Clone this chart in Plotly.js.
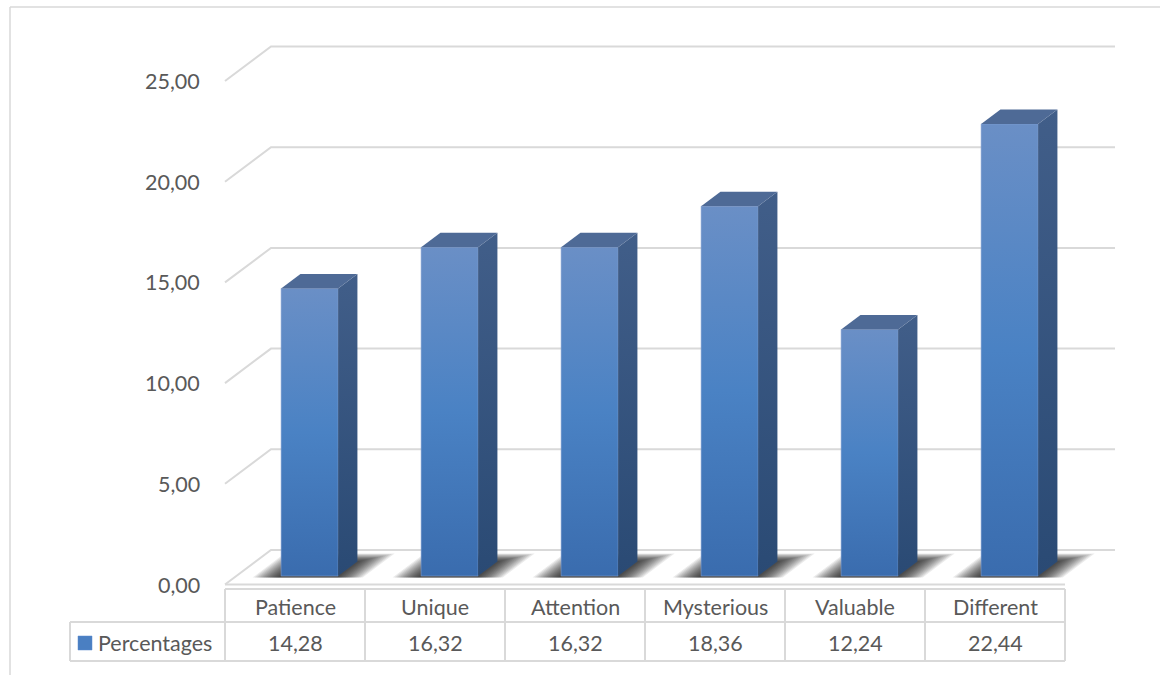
<!DOCTYPE html>
<html>
<head>
<meta charset="utf-8">
<script src="https://cdn.plot.ly/plotly-3.0.1.min.js"></script>
<style>
  html, body { margin: 0; padding: 0; background: #ffffff; }
  #chart { width: 1160px; height: 675px; }
</style>
</head>
<body>
<div id="chart"></div>
<script>
// ---- data ----
const categories = ['Patience', 'Unique', 'Attention', 'Mysterious', 'Valuable', 'Different'];
const percentages = [14.28, 16.32, 16.32, 18.36, 12.24, 22.44];
const seriesName = 'Percentages';
const tickValues = [0, 5, 10, 15, 20, 25];
const tickLabels = ['0,00', '5,00', '10,00', '15,00', '20,00', '25,00'];

// ---- layout constants (pixels) ----
const W = 1160, H = 675;
const X0 = 225;        // left edge of the front plane / table
const CAT = 140;       // width of one category on the front plane
const Y0 = 584.5;      // value 0 on the front plane
const UNIT = 20.14;    // pixels per percentage point
const DEPTH_X = 46, DEPTH_Y = 34.5;  // offset of the back wall

const DX = DEPTH_X / CAT;
const DY = DEPTH_Y / UNIT;
const toX = px => (px - X0) / CAT;
const toY = py => (Y0 - py) / UNIT;

const TEXT = '#595959';
const GRID = '#d9d9d9';
const FONT = 'Lato, "Open Sans", sans-serif';

// point on the 3D box: x in category units, v in value units, d depth (0 front .. 1 back)
function P(x, v, d) { return [x + d * DX, v + d * DY]; }

function poly(points, extra) {
  const xs = points.map(p => p[0]);
  const ys = points.map(p => p[1]);
  xs.push(xs[0]); ys.push(ys[0]);
  return Object.assign({
    x: xs, y: ys, type: 'scatter', mode: 'lines', fill: 'toself',
    line: { width: 0 }, hoverinfo: 'skip', showlegend: false
  }, extra);
}

function polyline(points, color, width) {
  return {
    x: points.map(p => p[0]), y: points.map(p => p[1]),
    type: 'scatter', mode: 'lines', line: { color: color, width: width },
    hoverinfo: 'skip', showlegend: false
  };
}

const traces = [];

// back wall grid lines with the short diagonal on the side wall
const nCat = categories.length;
const backRight = toX(1115);
tickValues.forEach(v => {
  const a = P(0, v, 0), b = P(0, v, 1);
  traces.push(polyline([a, b, [backRight, b[1]]], GRID, 2));
});
// floor front edge
traces.push(polyline([P(0, 0, 0), P(nCat, 0, 0)], GRID, 2));

// bar placement within a category
const BAR_LEFT = 0.32, BAR_W = 0.407;
const F0 = 0.246, F1 = 0.666;

// soft floor shadows: many thin expanding outlines of the footprint stacked up
const SHADOW_STEPS = 14, SHADOW_STEP_PX = 1.9;
percentages.forEach((v, i) => {
  const l = i + BAR_LEFT, r = l + BAR_W;
  for (let k = SHADOW_STEPS; k >= 1; k--) {
    const ePx = k * SHADOW_STEP_PX;
    const ex = ePx / CAT;
    const back = F1 + ePx * 0.3 / DEPTH_Y;
    const front = F0 - Math.min(ePx, 1.5) / DEPTH_Y;
    traces.push(poly([P(l - ex, 0, front), P(r + ex, 0, front), P(r + ex, 0, back), P(l - ex, 0, back)],
      { fillcolor: 'rgba(0,0,0,0.08)' }));
  }
});

// 3D columns
percentages.forEach((v, i) => {
  const l = i + BAR_LEFT, r = l + BAR_W;
  // front face
  traces.push(poly([P(l, 0, F0), P(r, 0, F0), P(r, v, F0), P(l, v, F0)], {
    fillcolor: '#4a7fc2',
    fillgradient: {
      type: 'vertical',
      start: P(l, 0, F0)[1], stop: P(l, v, F0)[1],
      colorscale: [[0, '#3a6cae'], [0.5, '#4a82c4'], [1, '#6a8fc6']]
    },
    line: { width: 0.8, color: 'rgba(130,160,210,0.7)' }
  }));
  // side face
  traces.push(poly([P(r, 0, F0), P(r, 0, F1), P(r, v, F1), P(r, v, F0)], {
    fillcolor: '#35557f',
    fillgradient: {
      type: 'vertical',
      start: P(r, 0, F0)[1], stop: P(r, v, F1)[1],
      colorscale: [[0, '#2a4a74'], [1, '#415e89']]
    }
  }));
  // top face
  traces.push(poly([P(l, v, F0), P(r, v, F0), P(r, v, F1), P(l, v, F1)], {
    fillcolor: '#4e6a96'
  }));
});

// ---- data table ----
const T_TOP = 589, T_MID = 622, T_BOT = 661, T_LEFT = 70;
const shapes = [];
function hLine(x0, x1, y) {
  shapes.push({ type: 'line', xref: 'x', yref: 'y', x0: toX(x0), x1: toX(x1), y0: toY(y), y1: toY(y),
    line: { color: GRID, width: 2 } });
}
function vLine(x, y0, y1) {
  shapes.push({ type: 'line', xref: 'x', yref: 'y', x0: x, x1: x, y0: toY(y0), y1: toY(y1),
    line: { color: GRID, width: 2 } });
}
hLine(X0, X0 + nCat * CAT, T_TOP);
hLine(T_LEFT, X0 + nCat * CAT, T_MID);
hLine(T_LEFT, X0 + nCat * CAT, T_BOT);
for (let i = 0; i <= nCat; i++) vLine(i, T_TOP, T_BOT);
vLine(toX(T_LEFT), T_MID, T_BOT);

// outer chart frame (left and top edges)
shapes.push({ type: 'line', xref: 'paper', yref: 'paper', x0: 10 / W, x1: 10 / W, y0: 1 - 7 / H, y1: 0,
  line: { color: GRID, width: 1.5 } });
shapes.push({ type: 'line', xref: 'paper', yref: 'paper', x0: 10 / W, x1: 1, y0: 1 - 7 / H, y1: 1 - 7 / H,
  line: { color: GRID, width: 1.5 } });

// legend key
shapes.push({ type: 'rect', xref: 'x', yref: 'y', x0: toX(78), x1: toX(92), y0: toY(650), y1: toY(636),
  fillcolor: '#4a7fc2', line: { color: '#5b8bcc', width: 0.5 } });

const fmt = v => v.toFixed(2).replace('.', ',');
const annotations = [];
const font = { family: FONT, size: 21.5, color: TEXT };

// value axis labels
tickValues.forEach((v, k) => {
  annotations.push({ x: toX(202), y: v, xref: 'x', yref: 'y', text: tickLabels[k],
    showarrow: false, xanchor: 'right', yanchor: 'middle', font: font });
});
// category row and value row
categories.forEach((c, i) => {
  annotations.push({ x: i + 0.5, y: toY((T_TOP + T_MID) / 2 + 1), xref: 'x', yref: 'y', text: c,
    showarrow: false, xanchor: 'center', yanchor: 'middle', font: font });
  annotations.push({ x: i + 0.5, y: toY((T_MID + T_BOT) / 2 + 1), xref: 'x', yref: 'y', text: fmt(percentages[i]),
    showarrow: false, xanchor: 'center', yanchor: 'middle', font: font });
});
annotations.push({ x: toX(96), y: toY((T_MID + T_BOT) / 2 + 1), xref: 'x', yref: 'y', text: seriesName,
  showarrow: false, xanchor: 'left', yanchor: 'middle', font: font });

const layout = {
  width: W, height: H,
  margin: { l: 0, r: 0, t: 0, b: 0, pad: 0 },
  paper_bgcolor: '#ffffff', plot_bgcolor: '#ffffff',
  showlegend: false,
  separators: ',.',
  xaxis: { range: [toX(0), toX(W)], visible: false, fixedrange: true },
  yaxis: { range: [toY(H), toY(0)], visible: false, fixedrange: true },
  shapes: shapes,
  annotations: annotations
};

Plotly.newPlot('chart', traces, layout, { staticPlot: true, displayModeBar: false });
</script>
</body>
</html>
